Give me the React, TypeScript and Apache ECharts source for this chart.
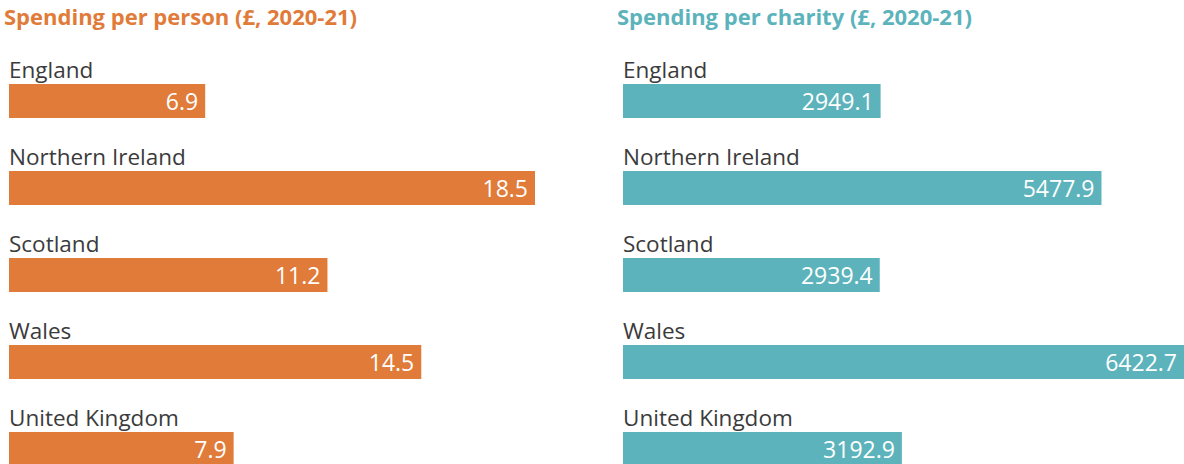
import React, { useEffect, useRef } from "react";
import * as echarts from "echarts";

const regions = ["England", "Northern Ireland", "Scotland", "Wales", "United Kingdom"];
const perPerson = [6.9, 18.5, 11.2, 14.5, 7.9];
const perCharity = [2949.1, 5477.9, 2939.4, 6422.7, 3192.9];
const titles = ["Spending per person (£, 2020-21)", "Spending per charity (£, 2020-21)"];

const ORANGE = "#E07B39";
const TEAL = "#5CB3BC";
const FONT = "Open Sans";

export default function App() {
  const ref = useRef<HTMLDivElement>(null);
  useEffect(() => {
    document.body.style.margin = "0";
    document.body.style.overflow = "hidden";
    document.documentElement.style.overflow = "hidden";
    const chart = echarts.init(ref.current!, null, { renderer: "svg" });
    const mkY = (gi: number) => ({
      type: "category",
      gridIndex: gi,
      data: regions,
      inverse: true,
      show: false,
    });
    const mkX = (gi: number) => ({
      type: "value",
      gridIndex: gi,
      min: 0,
      max: "dataMax",
      show: false,
    });
    const mkS = (gi: number, data: number[], color: string) => [
      {
        type: "bar",
        xAxisIndex: gi,
        yAxisIndex: gi,
        data,
        barWidth: 34,
        itemStyle: { color },
        label: {
          show: true,
          position: "insideRight",
          distance: 7,
          color: "#fff",
          fontFamily: FONT,
          fontSize: 23,
        },
      },
      {
        type: "bar",
        xAxisIndex: gi,
        yAxisIndex: gi,
        data,
        barWidth: 34,
        barGap: "-100%",
        silent: true,
        itemStyle: { color: "transparent" },
        label: {
          show: true,
          position: [0, -3],
          verticalAlign: "bottom",
          align: "left",
          formatter: "{b}",
          color: "#3b3b3b",
          fontFamily: FONT,
          fontSize: 22.5,
        },
      },
    ];
    chart.setOption({
      animation: false,
      title: [
        {
          text: titles[0],
          left: 4,
          top: 5,
          padding: 0,
          textStyle: { color: ORANGE, fontFamily: FONT, fontWeight: "bold", fontSize: 22 },
        },
        {
          text: titles[1],
          left: 617,
          top: 5,
          padding: 0,
          textStyle: { color: TEAL, fontFamily: FONT, fontWeight: "bold", fontSize: 22 },
        },
      ],
      grid: [
        { left: 9, top: 57.5, width: 526, height: 435 },
        { left: 623, top: 57.5, width: 564, height: 435 },
      ],
      xAxis: [mkX(0), mkX(1)],
      yAxis: [mkY(0), mkY(1)],
      series: [...mkS(0, perPerson, ORANGE), ...mkS(1, perCharity, TEAL)],
    });
    return () => chart.dispose();
  }, []);
  return <div ref={ref} style={{ width: 1184, height: 500 }} />;
}
